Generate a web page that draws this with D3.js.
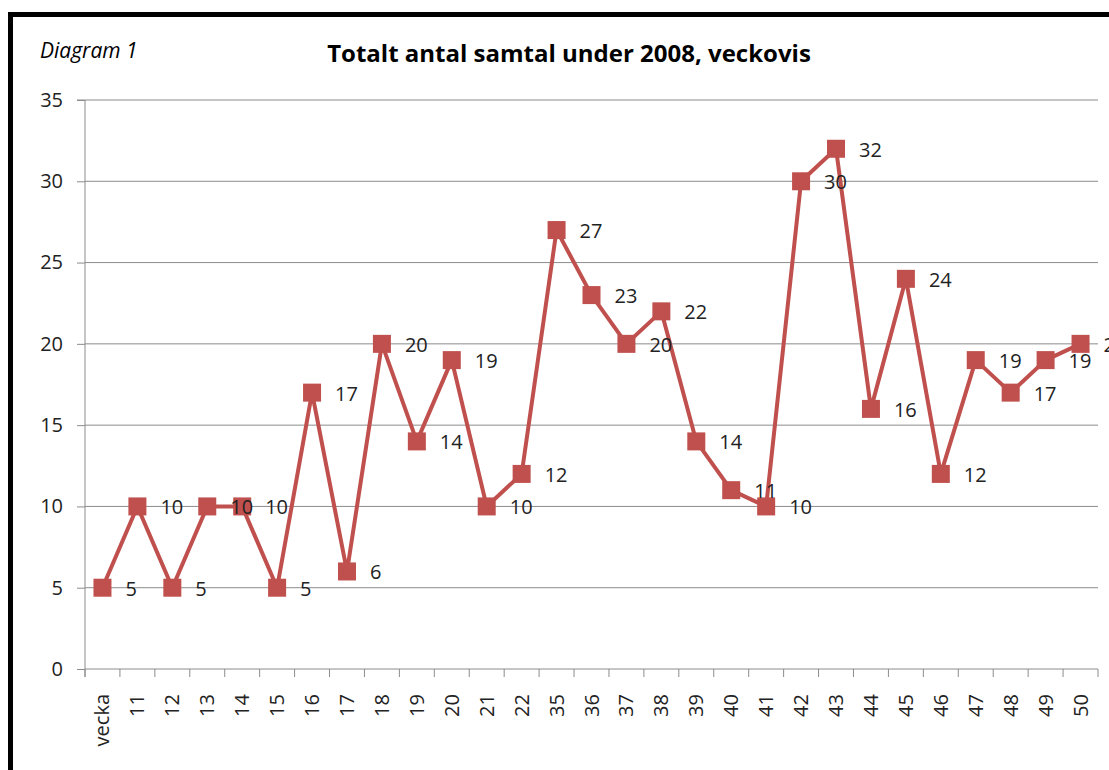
<!DOCTYPE html>
<html><head><meta charset="utf-8">
<script src="https://cdn.jsdelivr.net/npm/d3@7"></script>
<style>body{margin:0;background:#fff;font-family:"Open Sans","Noto Sans",sans-serif}</style>
</head><body>
<svg id="c" width="1109" height="770"></svg>
<script>
const categories = ["vecka","11","12","13","14","15","16","17","18","19","20","21","22","35","36","37","38","39","40","41","42","43","44","45","46","47","48","49","50"];
const values = [5,10,5,10,10,5,17,6,20,14,19,10,12,27,23,20,22,14,11,10,30,32,16,24,12,19,17,19,20];
const yTicks = [0,5,10,15,20,25,30,35];
const title = "Totalt antal samtal under 2008, veckovis";
const subtitle = "Diagram 1";

(function(){
const svg = d3.select("#c");
const color = "#C0504D";
const F = "Open Sans, sans-serif";
const pL = 85, pR = 1098, pT = 100, pB = 669;

svg.append("rect").attr("x",10.5).attr("y",14.5).attr("width",1120).attr("height",800)
  .attr("fill","none").attr("stroke","#000").attr("stroke-width",5);

svg.append("text").attr("x",40).attr("y",58).attr("font-style","italic").attr("font-size",21)
  .attr("font-family",F).text(subtitle);
svg.append("text").attr("x",569).attr("y",62).attr("text-anchor","middle").attr("font-weight","bold")
  .attr("font-size",24).attr("font-family",F).text(title);

const x = d3.scaleBand().domain(categories).range([pL,pR]);
const y = d3.scaleLinear().domain([0,35]).range([pB,pT]);

svg.append("g").selectAll("line").data(yTicks.filter(d=>d>0)).join("line")
  .attr("x1",pL).attr("x2",pR).attr("y1",d=>y(d)).attr("y2",d=>y(d))
  .attr("stroke","#8c8c8c").attr("stroke-width",1);

const ya = svg.append("g").attr("transform",`translate(${pL},0)`)
  .call(d3.axisLeft(y).tickValues(yTicks).tickSize(8).tickPadding(14));
ya.selectAll("line,path").attr("stroke","#8c8c8c");
ya.select(".domain").attr("d",`M-8,${pT}H0V${pB+8}`);
ya.selectAll("text").attr("font-size",20).attr("fill","#222").attr("font-family",F);

const xa = svg.append("g").attr("transform",`translate(0,${pB})`);
xa.append("line").attr("x1",pL).attr("x2",pR).attr("stroke","#8c8c8c");
const bounds = categories.map(d=>x(d)).concat([pR]);
xa.selectAll("line.t").data(bounds).join("line").attr("class","t")
  .attr("x1",d=>d).attr("x2",d=>d).attr("y1",0).attr("y2",8).attr("stroke","#8c8c8c");
xa.selectAll("text").data(categories).join("text")
  .attr("transform",d=>`translate(${x(d)+x.bandwidth()/2+7},25) rotate(-90)`)
  .attr("text-anchor","end").attr("font-size",20).attr("fill","#222")
  .attr("font-family",F).text(d=>d);

const cx = (d,i)=>x(categories[i])+x.bandwidth()/2;
const line = d3.line().x((d,i)=>cx(d,i)).y(d=>y(d));
svg.append("path").datum(values).attr("d",line).attr("fill","none")
  .attr("stroke",color).attr("stroke-width",4).attr("stroke-linejoin","round");

svg.append("g").selectAll("rect").data(values).join("rect")
  .attr("x",(d,i)=>cx(d,i)-9).attr("y",d=>y(d)-9).attr("width",18).attr("height",18).attr("fill",color);

svg.append("g").selectAll("text").data(values).join("text")
  .attr("x",(d,i)=>cx(d,i)+23).attr("y",d=>y(d)+8).attr("font-size",20).attr("fill","#222")
  .attr("font-family",F).text(d=>d);
})();
</script>
</body></html>
